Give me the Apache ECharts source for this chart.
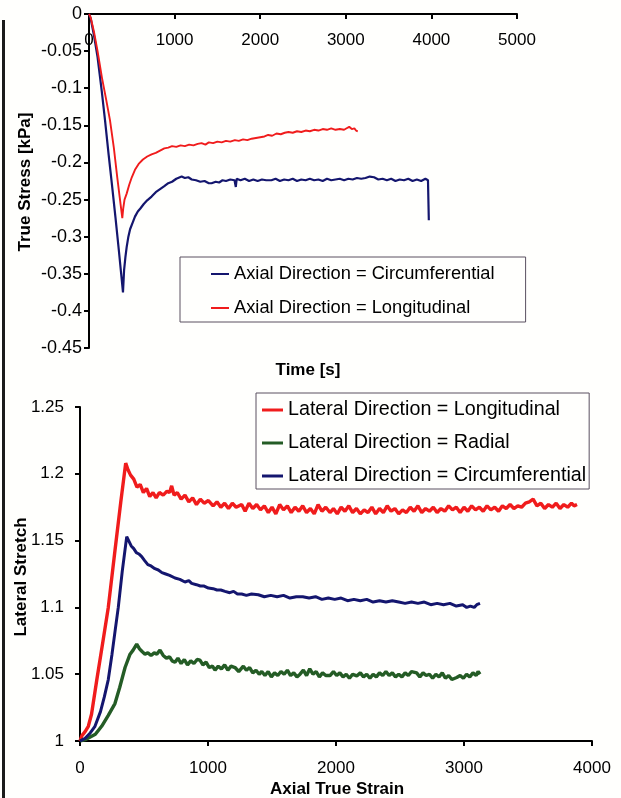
<!DOCTYPE html>
<html>
<head>
<meta charset="utf-8">
<script src="https://cdn.jsdelivr.net/npm/echarts@6/dist/echarts.min.js"></script>
<style>
  html, body { margin: 0; padding: 0; background: #fffffd; }
  #chart { width: 621px; height: 798px; }
</style>
</head>
<body>
<div id="chart"></div>
<script>
// ---- Upper panel: true stress vs time ----
const timeTicks = [0, 1000, 2000, 3000, 4000, 5000];
const stressTicks = [0, -0.05, -0.1, -0.15, -0.2, -0.25, -0.3, -0.35, -0.4, -0.45];

// [time s, true stress kPa]
const stressCircumferential = [
  [0,0],[20,-0.006],[60,-0.03],[100,-0.058],[150,-0.105],[187,-0.143],[230,-0.19],[270,-0.232],
  [310,-0.275],[350,-0.32],[380,-0.355],[397,-0.375],[410,-0.345],[425,-0.328],[440,-0.314],
  [460,-0.3],[480,-0.29],[510,-0.281],[537,-0.273],[570,-0.266],[600,-0.262],[640,-0.256],
  [680,-0.251],[731,-0.246],[780,-0.24],[830,-0.236],[880,-0.232],[926,-0.228],[970,-0.226],
  [1020,-0.222],[1082,-0.219],[1120,-0.221],[1160,-0.22],[1200,-0.223],[1250,-0.224],[1300,-0.226],
  [1350,-0.225],[1400,-0.228],[1432,-0.228],[1480,-0.226],[1520,-0.227],[1560,-0.224],[1600,-0.225],
  [1650,-0.223],[1700,-0.224],[1715,-0.233],[1725,-0.222],[1770,-0.224],[1820,-0.222],[1870,-0.225],
  [1920,-0.223],[1970,-0.225],[2020,-0.223],[2070,-0.224],[2131,-0.224],[2180,-0.222],[2230,-0.225],
  [2280,-0.223],[2330,-0.224],[2380,-0.222],[2430,-0.225],[2480,-0.223],[2530,-0.224],[2580,-0.222],
  [2630,-0.224],[2680,-0.223],[2730,-0.225],[2780,-0.222],[2830,-0.224],[2880,-0.223],[2930,-0.222],
  [2980,-0.224],[3030,-0.222],[3080,-0.223],[3130,-0.221],[3180,-0.222],[3230,-0.221],[3280,-0.219],
  [3300,-0.217],[3330,-0.22],[3380,-0.223],[3430,-0.222],[3480,-0.224],[3530,-0.222],[3580,-0.225],
  [3630,-0.223],[3680,-0.224],[3730,-0.222],[3780,-0.225],[3830,-0.223],[3880,-0.225],[3930,-0.222],
  [3960,-0.224],[3970,-0.278]
];

const stressLongitudinal = [
  [0,0],[20,-0.005],[60,-0.025],[100,-0.05],[150,-0.085],[200,-0.115],[245,-0.143],[290,-0.18],
  [330,-0.22],[360,-0.248],[389,-0.275],[400,-0.262],[415,-0.25],[440,-0.242],[470,-0.23],
  [500,-0.22],[537,-0.21],[580,-0.202],[630,-0.196],[680,-0.192],[731,-0.189],[780,-0.187],
  [830,-0.184],[880,-0.181],[926,-0.18],[970,-0.178],[1020,-0.179],[1070,-0.177],[1120,-0.178],
  [1170,-0.176],[1220,-0.177],[1270,-0.175],[1315,-0.174],[1360,-0.176],[1400,-0.173],[1450,-0.174],
  [1500,-0.172],[1550,-0.173],[1600,-0.171],[1650,-0.172],[1704,-0.17],[1750,-0.171],[1800,-0.169],
  [1850,-0.17],[1900,-0.168],[1950,-0.167],[2000,-0.166],[2050,-0.165],[2093,-0.163],[2140,-0.164],
  [2190,-0.161],[2240,-0.162],[2287,-0.16],[2330,-0.159],[2380,-0.16],[2430,-0.158],[2480,-0.159],
  [2530,-0.157],[2580,-0.158],[2630,-0.156],[2680,-0.157],[2730,-0.155],[2780,-0.156],[2830,-0.154],
  [2880,-0.156],[2930,-0.155],[2980,-0.156],[3010,-0.154],[3040,-0.152],[3070,-0.155],[3100,-0.154],
  [3120,-0.157],[3140,-0.158]
];

// ---- Lower panel: lateral stretch vs axial true strain ----
const strainTicks = [0, 1000, 2000, 3000, 4000];
const stretchTicks = [1, 1.05, 1.1, 1.15, 1.2, 1.25];

// [axial true strain, lateral stretch]
const lateralLongitudinal = [
  [0,1.0],[15,1.004],[40,1.007],[65,1.011],[90,1.02],[130,1.045],[180,1.075],[221,1.1],[270,1.14],
  [320,1.18],[357,1.208],[375,1.203],[395,1.199],[420,1.196],[445,1.19],[470,1.192],[495,1.186],
  [520,1.189],[545,1.183],[570,1.186],[595,1.182],[620,1.186],[650,1.184],[680,1.187],[700,1.186],
  [716,1.191],[735,1.184],[760,1.186],[790,1.181],[820,1.184],[850,1.179],[880,1.182],[910,1.177],
  [940,1.181],[970,1.178],[1003,1.18],[1040,1.176],[1070,1.179],[1100,1.175],[1130,1.178],[1160,1.174],
  [1190,1.178],[1220,1.175],[1263,1.177],[1290,1.172],[1320,1.178],[1350,1.174],[1380,1.177],
  [1410,1.173],[1440,1.176],[1471,1.171],[1500,1.175],[1530,1.17],[1560,1.177],[1590,1.173],
  [1620,1.176],[1650,1.171],[1680,1.175],[1710,1.172],[1740,1.176],[1770,1.171],[1800,1.174],
  [1830,1.17],[1860,1.177],[1890,1.172],[1920,1.175],[1953,1.171],[1980,1.174],[2010,1.17],
  [2040,1.175],[2070,1.172],[2100,1.176],[2130,1.171],[2160,1.174],[2190,1.17],[2220,1.173],
  [2250,1.171],[2280,1.175],[2310,1.17],[2340,1.174],[2370,1.171],[2400,1.176],[2430,1.172],
  [2460,1.174],[2490,1.17],[2520,1.173],[2550,1.171],[2580,1.175],[2610,1.172],[2640,1.176],
  [2670,1.171],[2700,1.174],[2730,1.172],[2760,1.175],[2790,1.171],[2820,1.174],[2850,1.172],
  [2880,1.176],[2910,1.173],[2940,1.175],[2970,1.171],[3000,1.175],[3030,1.172],[3060,1.176],
  [3090,1.173],[3120,1.175],[3150,1.172],[3180,1.176],[3210,1.173],[3240,1.175],[3270,1.172],
  [3300,1.176],[3330,1.174],[3360,1.177],[3390,1.174],[3420,1.176],[3450,1.175],[3480,1.178],
  [3510,1.179],[3540,1.181],[3570,1.176],[3600,1.178],[3630,1.174],[3660,1.177],[3690,1.175],
  [3720,1.178],[3750,1.174],[3780,1.177],[3810,1.175],[3840,1.178],[3860,1.176],[3883,1.177]
];

const lateralRadial = [
  [0,1.0],[40,1.001],[80,1.003],[120,1.005],[169,1.011],[220,1.019],[273,1.028],[310,1.04],
  [352,1.055],[391,1.065],[415,1.068],[443,1.0725],[465,1.069],[485,1.067],[508,1.065],[530,1.066],
  [555,1.064],[580,1.066],[600,1.065],[625,1.068],[650,1.064],[675,1.062],[700,1.063],[720,1.06],
  [742,1.059],[765,1.062],[790,1.058],[815,1.061],[840,1.057],[865,1.06],[890,1.058],[915,1.061],
  [937,1.0605],[960,1.057],[985,1.059],[1010,1.055],[1035,1.056],[1055,1.053],[1080,1.056],
  [1105,1.054],[1130,1.057],[1155,1.053],[1180,1.056],[1211,1.055],[1240,1.052],[1276,1.056],
  [1300,1.053],[1325,1.055],[1350,1.051],[1375,1.053],[1400,1.05],[1420,1.052],[1445,1.049],
  [1470,1.052],[1495,1.048],[1520,1.051],[1545,1.049],[1570,1.052],[1595,1.05],[1620,1.053],
  [1645,1.049],[1670,1.051],[1695,1.048],[1719,1.05],[1745,1.053],[1770,1.049],[1795,1.054],
  [1820,1.05],[1845,1.052],[1870,1.048],[1895,1.051],[1920,1.049],[1953,1.049],[1980,1.052],
  [2005,1.049],[2030,1.051],[2055,1.048],[2080,1.05],[2105,1.047],[2130,1.05],[2162,1.0487],
  [2190,1.051],[2215,1.048],[2240,1.05],[2265,1.047],[2290,1.05],[2315,1.048],[2340,1.051],
  [2365,1.049],[2390,1.052],[2415,1.049],[2440,1.051],[2465,1.048],[2490,1.05],[2515,1.048],
  [2540,1.051],[2565,1.049],[2590,1.052],[2630,1.051],[2655,1.048],[2680,1.051],[2705,1.049],
  [2730,1.05],[2755,1.047],[2780,1.05],[2805,1.048],[2830,1.051],[2855,1.047],[2880,1.049],
  [2905,1.046],[2943,1.0475],[2970,1.049],[2995,1.047],[3020,1.05],[3045,1.048],[3070,1.051],
  [3095,1.049],[3110,1.052],[3125,1.05]
];

const lateralCircumferential = [
  [0,1.0],[40,1.002],[80,1.006],[117,1.011],[160,1.022],[190,1.033],[221,1.046],[250,1.065],
  [275,1.083],[299,1.1],[330,1.127],[365,1.153],[380,1.15],[400,1.146],[420,1.144],[440,1.141],
  [460,1.14],[482,1.138],[505,1.135],[530,1.132],[555,1.131],[585,1.129],[612,1.128],[640,1.126],
  [670,1.125],[700,1.124],[742,1.122],[780,1.121],[820,1.119],[850,1.12],[872,1.118],[910,1.117],
  [940,1.116],[970,1.116],[1003,1.1145],[1040,1.114],[1070,1.113],[1100,1.113],[1133,1.112],
  [1170,1.111],[1200,1.112],[1230,1.11],[1263,1.11],[1300,1.109],[1340,1.11],[1393,1.1095],
  [1440,1.108],[1490,1.109],[1540,1.108],[1590,1.109],[1640,1.107],[1690,1.108],[1740,1.108],
  [1790,1.107],[1840,1.108],[1890,1.106],[1940,1.107],[1990,1.106],[2040,1.107],[2090,1.105],
  [2140,1.106],[2190,1.105],[2240,1.106],[2290,1.104],[2340,1.105],[2390,1.104],[2440,1.105],
  [2490,1.104],[2540,1.103],[2590,1.104],[2640,1.103],[2690,1.104],[2740,1.102],[2790,1.103],
  [2840,1.102],[2890,1.103],[2940,1.101],[2990,1.102],[3021,1.1],[3050,1.101],[3080,1.1],
  [3100,1.102],[3125,1.103]
];

const FONT = '"Liberation Sans", Arial, sans-serif';
const NAVY = '#14166e';
const RED = '#f01c1c';
const GREEN = '#245c25';

const axisLine = { show: true, lineStyle: { color: '#000', width: 2 } };
const tickStyle = { lineStyle: { color: '#000', width: 2 } };
const labelStyle = { color: '#000', fontSize: 17, fontFamily: FONT };

function stepOf(ticks) { return Math.round(Math.abs(ticks[1] - ticks[0]) * 1000) / 1000; }
// plain numbers: no thousands separators, no float noise
function plain(v) { return String(Math.round(v * 1000) / 1000); }

const chart = echarts.init(document.getElementById('chart'), null, { renderer: 'canvas' });

chart.setOption({
  animation: false,
  backgroundColor: '#fffffd',
  grid: [
    { left: 89, top: 14, width: 428, height: 334, containLabel: false, outerBoundsMode: 'none' },
    { left: 80, top: 407, width: 512, height: 334, containLabel: false, outerBoundsMode: 'none' }
  ],
  xAxis: [
    {
      type: 'value', gridIndex: 0, position: 'top',
      min: timeTicks[0], max: timeTicks[timeTicks.length - 1], interval: stepOf(timeTicks),
      axisLine: Object.assign({ onZero: false }, axisLine),
      axisTick: Object.assign({ show: true, inside: true, length: 5 }, tickStyle),
      axisLabel: Object.assign({ inside: true, margin: 18, formatter: plain }, labelStyle),
      splitLine: { show: false }
    },
    {
      type: 'value', gridIndex: 1,
      min: strainTicks[0], max: strainTicks[strainTicks.length - 1], interval: stepOf(strainTicks),
      axisLine: Object.assign({ onZero: false }, axisLine),
      axisTick: Object.assign({ show: true, length: 5 }, tickStyle),
      axisLabel: Object.assign({ margin: 19, formatter: plain }, labelStyle),
      splitLine: { show: false }
    }
  ],
  yAxis: [
    {
      type: 'value', gridIndex: 0,
      min: stressTicks[stressTicks.length - 1], max: stressTicks[0], interval: stepOf(stressTicks),
      axisLine: Object.assign({ onZero: false }, axisLine),
      axisTick: Object.assign({ show: true, length: 5 }, tickStyle),
      axisLabel: Object.assign({ margin: 7, formatter: plain }, labelStyle, { fontSize: 18 }),
      splitLine: { show: false }
    },
    {
      type: 'value', gridIndex: 1,
      min: stretchTicks[0], max: stretchTicks[stretchTicks.length - 1], interval: stepOf(stretchTicks),
      axisLine: Object.assign({ onZero: false }, axisLine),
      axisTick: Object.assign({ show: true, length: 5 }, tickStyle),
      axisLabel: Object.assign({ margin: 16, formatter: plain }, labelStyle),
      splitLine: { show: false }
    }
  ],
  legend: [
    {
      orient: 'vertical', left: 180, top: 257,
      padding: [8, 31, 5, 31], itemWidth: 18, itemHeight: 2, itemGap: 16,
      icon: 'rect',
      borderColor: '#5a5060', borderWidth: 1,
      textStyle: { color: '#000', fontSize: 18.3, fontFamily: FONT },
      data: ['Axial Direction = Circumferential', 'Axial Direction = Longitudinal']
    },
    {
      orient: 'vertical', left: 256, top: 393,
      padding: [7, 3, 3, 6], itemGap: 13, itemWidth: 21, itemHeight: 3,
      icon: 'rect',
      borderColor: '#5a5060', borderWidth: 1,
      textStyle: { color: '#000', fontSize: 19.7, fontFamily: FONT },
      data: ['Lateral Direction = Longitudinal', 'Lateral Direction = Radial', 'Lateral Direction = Circumferential']
    }
  ],
  graphic: [
    { type: 'rect', left: 2, top: 20, shape: { width: 3, height: 778 }, style: { fill: '#1b1b1b' }, silent: true },
    { type: 'text', x: 308, y: 370, style: { text: 'Time [s]', font: 'bold 17px ' + FONT, fill: '#000', textAlign: 'center', textVerticalAlign: 'middle' } },
    { type: 'text', x: 337, y: 789, style: { text: 'Axial True Strain', font: 'bold 17px ' + FONT, fill: '#000', textAlign: 'center', textVerticalAlign: 'middle' } },
    { type: 'text', x: 25, y: 182, rotation: Math.PI / 2, style: { text: 'True Stress [kPa]', font: 'bold 17px ' + FONT, fill: '#000', textAlign: 'center', textVerticalAlign: 'middle' } },
    { type: 'text', x: 21, y: 577, rotation: Math.PI / 2, style: { text: 'Lateral Stretch', font: 'bold 17px ' + FONT, fill: '#000', textAlign: 'center', textVerticalAlign: 'middle' } }
  ],
  series: [
    {
      name: 'Axial Direction = Circumferential', type: 'line', xAxisIndex: 0, yAxisIndex: 0,
      data: stressCircumferential, showSymbol: false, symbol: 'none',
      lineStyle: { color: NAVY, width: 2.2 }, itemStyle: { color: NAVY }
    },
    {
      name: 'Axial Direction = Longitudinal', type: 'line', xAxisIndex: 0, yAxisIndex: 0,
      data: stressLongitudinal, showSymbol: false, symbol: 'none',
      lineStyle: { color: RED, width: 1.9 }, itemStyle: { color: RED }
    },
    {
      name: 'Lateral Direction = Longitudinal', type: 'line', xAxisIndex: 1, yAxisIndex: 1,
      data: lateralLongitudinal, showSymbol: false, symbol: 'none',
      lineStyle: { color: RED, width: 3.4 }, itemStyle: { color: RED }
    },
    {
      name: 'Lateral Direction = Radial', type: 'line', xAxisIndex: 1, yAxisIndex: 1,
      data: lateralRadial, showSymbol: false, symbol: 'none',
      lineStyle: { color: GREEN, width: 3.4 }, itemStyle: { color: GREEN }
    },
    {
      name: 'Lateral Direction = Circumferential', type: 'line', xAxisIndex: 1, yAxisIndex: 1,
      data: lateralCircumferential, showSymbol: false, symbol: 'none',
      lineStyle: { color: NAVY, width: 3 }, itemStyle: { color: NAVY }
    }
  ]
});
</script>
</body>
</html>
